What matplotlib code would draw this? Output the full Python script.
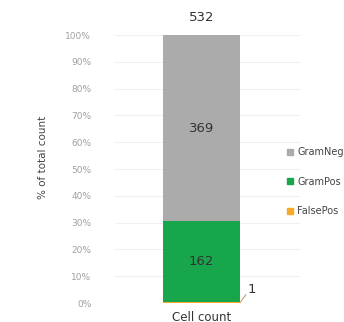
import numpy as np
import matplotlib.pyplot as plt
from matplotlib.patches import Patch

plt.rcParams["font.family"] = ["DejaVu Sans"]

categories = ["Cell count"]
series = ["FalsePos", "GramPos", "GramNeg"]
counts = {"GramPos": [162], "FalsePos": [1], "GramNeg": [369]}
colors = {"GramPos": "#17a64b", "FalsePos": "#f7a928", "GramNeg": "#ababab"}
legend_order = ["GramNeg", "GramPos", "FalsePos"]

total = np.sum([counts[s] for s in series], axis=0)

fig = plt.figure(figsize=(3.44, 3.22), dpi=100)
ax = fig.add_axes([0.334, 0.059, 0.538, 0.832])

x = np.arange(len(categories))
bottom = np.zeros(len(categories))
for s in series:
    pct = np.array(counts[s]) / total * 100
    ax.bar(x, pct, width=0.8, bottom=bottom, color=colors[s], zorder=2)
    for xi, b, p, c in zip(x, bottom, pct, counts[s]):
        if p > 5:
            ax.text(xi, b + p / 2, str(c), ha="center", va="center",
                    fontsize=9.5, color="#333333")
        else:
            # small slice: label off to the side with a short leader line
            ax.plot([xi + 0.4, xi + 0.46], [b + p / 2, b + p / 2 + 3],
                    color="#c8a070", lw=0.8, zorder=3, clip_on=False)
            ax.text(xi + 0.48, b + p / 2 + 5, str(c), ha="left", va="center",
                    fontsize=9.5, color="#333333")
    bottom += pct

for xi, t in zip(x, total):
    ax.text(xi, 106.5, str(t), ha="center", va="center", fontsize=9.5,
            color="#333333", clip_on=False)

ax.set_xlim(-0.9, 1.023)
ax.set_ylim(0, 100)
ax.set_yticks(np.arange(0, 101, 10))
ax.set_yticklabels([f"{v}%" for v in range(0, 101, 10)], fontsize=6.5,
                   color="#a0a0a0")
ax.set_xticks(x)
ax.set_xticklabels(categories, fontsize=8.5, color="#333333")
ax.tick_params(length=0, pad=17)
ax.tick_params(axis="x", pad=6)
ax.grid(axis="y", color="#efefef", lw=0.8, zorder=0)
for sp in ax.spines.values():
    sp.set_visible(False)

fig.text(0.124, 0.51, "% of total count", rotation=90, ha="center",
         va="center", fontsize=7.5, color="#444444")

handles = [Patch(color=colors[s]) for s in legend_order]
fig.legend(handles, legend_order, loc="upper left",
           bbox_to_anchor=(0.81, 0.57), frameon=False, fontsize=7,
           handlelength=0.55, handleheight=0.55, handletextpad=0.45,
           labelspacing=2.0, labelcolor="#444444")

fig.savefig("out.png", dpi=100)
